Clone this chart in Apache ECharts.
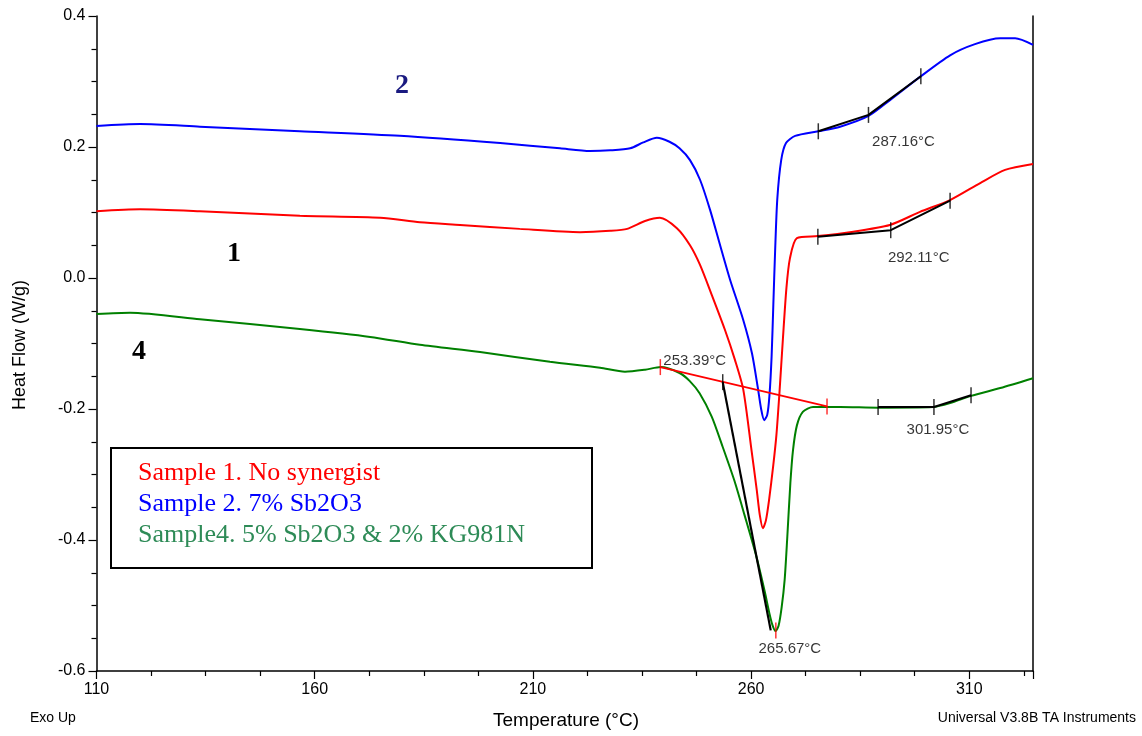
<!DOCTYPE html>
<html>
<head>
<meta charset="utf-8">
<script src="https://cdn.jsdelivr.net/npm/echarts@6/dist/echarts.min.js"></script>
<style>
  html, body { margin: 0; padding: 0; background: #fff; }
  #chart { width: 1142px; height: 736px; }
</style>
</head>
<body>
<div id="chart"></div>
<script>
// temperature (°C), heat flow (W/g)
var sample1 = [
  [110, 0.102], [120.0, 0.105], [133.7, 0.102], [156.6, 0.095], [175.0, 0.092],
  [184.1, 0.085], [193.3, 0.081], [207.0, 0.075], [220.8, 0.070], [227.7, 0.072],
  [231.6, 0.075], [235.7, 0.087], [239.1, 0.092], [243.0, 0.076], [246.0, 0.050],
  [248.3, 0.020], [251.0, -0.026], [254.0, -0.079], [256.3, -0.125], [258.2, -0.170],
  [260.1, -0.263], [261.3, -0.324], [262.0, -0.362], [262.7, -0.382], [263.4, -0.370],
  [264.1, -0.340], [265.1, -0.285], [265.8, -0.240], [266.5, -0.175], [267.3, -0.092],
  [268.1, -0.015], [268.9, 0.030], [270.5, 0.061], [275.3, 0.064], [282.6, 0.070],
  [291.8, 0.081], [298.7, 0.101], [305.6, 0.119], [312.5, 0.145], [318.2, 0.165],
  [324.6, 0.174]
];
var sample2 = [
  [110, 0.232], [120.0, 0.235], [133.7, 0.231], [156.6, 0.224], [179.5, 0.217],
  [202.5, 0.206], [216.2, 0.198], [223.1, 0.194], [227.7, 0.195], [232.3, 0.198],
  [235.3, 0.207], [238.4, 0.214], [241.3, 0.208], [243.6, 0.198], [246.0, 0.180],
  [248.3, 0.150], [250.6, 0.104], [252.9, 0.050], [255.2, -0.003], [258.2, -0.064],
  [260.2, -0.115], [261.6, -0.170], [262.3, -0.200], [263.0, -0.217], [263.7, -0.209],
  [264.2, -0.180], [264.7, -0.120], [265.1, -0.040], [265.5, 0.040], [266.0, 0.120],
  [266.9, 0.180], [268.0, 0.206], [270.1, 0.217], [275.4, 0.224], [280.4, 0.231],
  [286.8, 0.247], [291.9, 0.272], [298.7, 0.307], [305.6, 0.340], [311.3, 0.357],
  [317.1, 0.366], [320.5, 0.366], [324.6, 0.356]
];
var sample4 = [
  [110, -0.055], [117.7, -0.053], [133.7, -0.063], [156.6, -0.078], [172.7, -0.090],
  [184.1, -0.102], [197.9, -0.113], [213.9, -0.128], [225.4, -0.137], [231.1, -0.143],
  [235.7, -0.140], [239.3, -0.136], [243.6, -0.145], [245.9, -0.157], [248.2, -0.176],
  [251.0, -0.212], [253.5, -0.258], [256.2, -0.310], [258.5, -0.362], [261.2, -0.425],
  [263.1, -0.478], [264.2, -0.512], [264.9, -0.530], [265.6, -0.539], [266.3, -0.531],
  [267.0, -0.503], [267.7, -0.460], [268.3, -0.395], [269.0, -0.313], [269.6, -0.263],
  [270.5, -0.225], [271.9, -0.204], [274.2, -0.197], [280.4, -0.197], [289.1, -0.198],
  [301.7, -0.197], [305.6, -0.191], [310.4, -0.180], [317.1, -0.168], [324.6, -0.153]
];

// analysis marks
var onsetBaseline = [[239.2, -0.136], [277.4, -0.196]];
var onsetTangent = [[253.5, -0.159], [264.5, -0.538]];
var peak4 = [[265.67, -0.538]];
var step2 = [[275.4, 0.224], [286.9, 0.249], [298.9, 0.308]];
var step1 = [[275.3, 0.063], [292.0, 0.073], [305.6, 0.118]];
var step4 = [[289.1, -0.197], [301.9, -0.197], [310.4, -0.179]];

var legendTexts = ['Sample 1. No synergist', 'Sample 2. 7% Sb2O3', 'Sample4. 5% Sb2O3 & 2% KG981N'];
var legendColors = ['#ff0000', '#0000ff', '#2e8b57'];

var myChart = echarts.init(document.getElementById('chart'));

var sans = 'Liberation Sans, Arial, sans-serif';
var serif = 'Liberation Serif, Times New Roman, serif';

function curve(name, data, color) {
  return {
    name: name, type: 'line', data: data, symbol: 'none', smooth: 0.25,
    lineStyle: { color: color, width: 2 }, z: 2, animation: false
  };
}
function ticks(data, color) {
  return {
    type: 'scatter', data: data, symbol: 'rect', symbolSize: [1.5, 16],
    itemStyle: { color: color }, z: 5, animation: false, silent: true
  };
}
function segs(data, color, w) {
  return {
    type: 'line', data: data, symbol: 'none', lineStyle: { color: color, width: w },
    z: 4, animation: false, silent: true
  };
}
function tempLabel(point, text, dx, dy) {
  return {
    type: 'scatter', data: [point], symbolSize: 0, z: 6, animation: false, silent: true,
    label: {
      show: true, formatter: text, position: 'inside', offset: [dx, dy],
      color: '#000', fontFamily: sans, fontSize: 15
    }
  };
}

var legendGraphic = [{
  type: 'rect', left: 110, top: 447,
  shape: { width: 481, height: 120 },
  style: { fill: '#fff', stroke: '#000', lineWidth: 2 }, z: 10
}];
legendTexts.forEach(function (t, i) {
  legendGraphic.push({
    type: 'text', left: 138, top: 460 + i * 31, z: 11,
    style: { text: t, fill: legendColors[i], font: '26px ' + serif }
  });
});

var option = {
  backgroundColor: '#fff',
  grid: { left: 96.5, right: 109, top: 16, bottom: 65 },
  xAxis: {
    type: 'value', min: 110, max: 324.6, interval: 50,
    axisLine: { onZero: false, lineStyle: { color: '#000', width: 1.5 } },
    axisTick: { length: 8, lineStyle: { color: '#000', width: 1.2 } },
    minorTick: { show: true, splitNumber: 4, length: 5, lineStyle: { color: '#000', width: 1.2 } },
    splitLine: { show: false },
    axisLabel: { color: '#000', fontSize: 16, fontFamily: sans, margin: 11, showMaxLabel: false }
  },
  yAxis: [{
    type: 'value', min: -0.6, max: 0.4, interval: 0.2,
    axisLine: { show: true, onZero: false, lineStyle: { color: '#000', width: 1.5 } },
    axisTick: { show: true, length: 8, lineStyle: { color: '#000', width: 1.2 } },
    minorTick: { show: true, splitNumber: 4, length: 5, lineStyle: { color: '#000', width: 1.2 } },
    splitLine: { show: false },
    axisLabel: {
      color: '#000', fontSize: 16, fontFamily: sans, margin: 11,
      formatter: function (v) { return v.toFixed(1); }
    }
  }, {
    type: 'value', min: -0.6, max: 0.4, position: 'right',
    axisLine: { show: true, onZero: false, lineStyle: { color: '#000', width: 1.5 } },
    axisTick: { show: false }, axisLabel: { show: false }, splitLine: { show: false }
  }],
  series: [
    curve(legendTexts[0], sample1, '#ff0000'),
    curve(legendTexts[1], sample2, '#0000ff'),
    curve(legendTexts[2], sample4, '#008000'),
    segs(onsetBaseline, '#ff0000', 1.8),
    ticks(onsetBaseline, '#ff0000'),
    segs(onsetTangent, '#000', 2.2),
    ticks([onsetTangent[0]], '#000'),
    ticks(peak4, '#ff0000'),
    segs(step2, '#000', 2), ticks(step2, '#000'),
    segs(step1, '#000', 2), ticks(step1, '#000'),
    segs(step4, '#000', 2), ticks(step4, '#000'),
    tempLabel(onsetTangent[0], '253.39°C', -28, -21),
    tempLabel(peak4[0], '265.67°C', 14, 18),
    tempLabel(step2[1], '287.16°C', 35, 27),
    tempLabel(step1[1], '292.11°C', 28, 28),
    tempLabel(step4[1], '301.95°C', 4, 23)
  ],
  graphic: [
    { type: 'text', left: 395, top: 72, style: { text: '2', fill: '#1a1a80', font: 'bold 28px ' + serif } },
    { type: 'text', left: 227, top: 240, style: { text: '1', fill: '#000', font: 'bold 28px ' + serif } },
    { type: 'text', left: 132, top: 338, style: { text: '4', fill: '#000', font: 'bold 28px ' + serif } },
    {
      type: 'text', x: 20, y: 345, rotation: Math.PI / 2,
      style: { text: 'Heat Flow (W/g)', fill: '#000', font: '18px ' + sans, align: 'center', verticalAlign: 'middle' }
    },
    {
      type: 'text', x: 566, y: 721,
      style: { text: 'Temperature (°C)', fill: '#000', font: '19px ' + sans, align: 'center', verticalAlign: 'middle' }
    },
    {
      type: 'text', x: 30, y: 718,
      style: { text: 'Exo Up', fill: '#000', font: '14px ' + sans, align: 'left', verticalAlign: 'middle' }
    },
    {
      type: 'text', x: 1136, y: 718,
      style: { text: 'Universal V3.8B TA Instruments', fill: '#000', font: '14px ' + sans, align: 'right', verticalAlign: 'middle' }
    }
  ].concat(legendGraphic)
};
myChart.setOption(option, true);
</script>
</body>
</html>
